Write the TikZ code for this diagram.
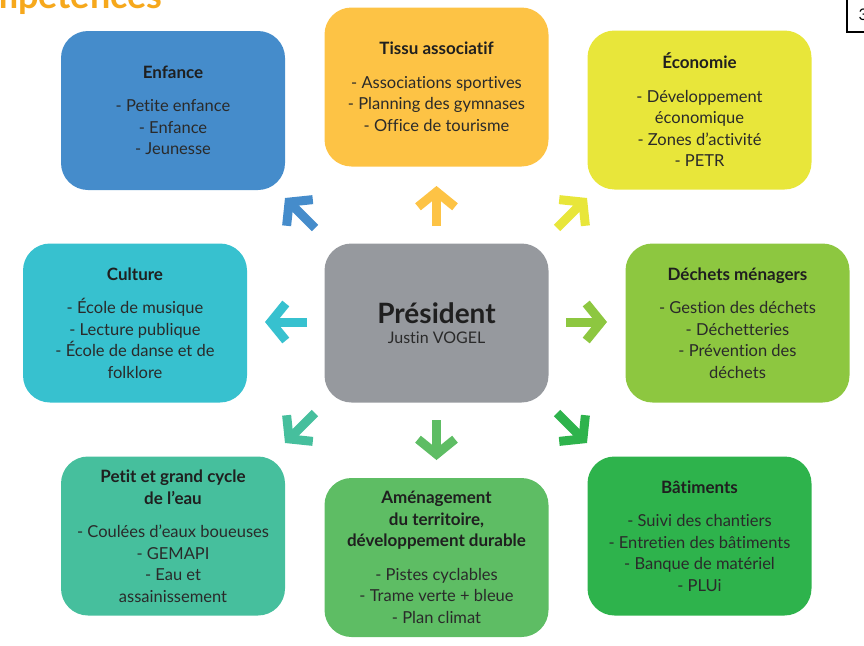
\documentclass[tikz,border=0pt]{standalone}
\usepackage{fontspec}
\setmainfont{Lato}[Ligatures={TeX,NoCommon}]
\usepackage{tikz}
\usetikzlibrary{arrows.meta,%
                positioning}

\definecolor{enfblue}{HTML}{458CCB}
\definecolor{tissuorange}{HTML}{FDC345}
\definecolor{ecoyellow}{HTML}{E8E63A}
\definecolor{cultcyan}{HTML}{37C1CF}
\definecolor{presgrey}{HTML}{96999E}
\definecolor{dechgreen}{HTML}{8DC740}
\definecolor{eauteal}{HTML}{46BF9D}
\definecolor{amengreen}{HTML}{5EBD64}
\definecolor{batgreen}{HTML}{2EB34C}
\definecolor{titreorange}{HTML}{F6A81C}
\definecolor{textdark}{HTML}{2A2A2A}

\newcommand{\rubrique}[1]{{\fontsize{17}{21.5}\selectfont\bfseries\color{black!88}#1}}

\tikzset{
  pole/.style={fill=#1, rounded corners=27pt, minimum width=224pt, minimum height=159pt,
               inner sep=0pt, align=center, text=textdark,
               font=\fontsize{16.5}{21.5}\selectfont},
  chev/.style={draw=#1, line width=9pt,
               -{Straight Barb[length=15pt, width=37pt, line width=9pt]}}
}

\begin{document}
\begin{tikzpicture}[x=1pt,y=-1pt]
\useasboundingbox (0,0) rectangle (864,645);
\clip (0,0) rectangle (864,645);
% titre et numero de page, coupes par le bord
\node[anchor=base east, text=titreorange, font=\fontsize{36}{36}\selectfont\bfseries] (titre) at (166,9) {Compétences};
\node[draw, line width=1.5pt, anchor=north west, minimum width=33pt, minimum height=34pt,
      font=\fontsize{16}{16}\selectfont] (page) at (846,-3) {3};
% les poles
\node[pole=presgrey] (pres) at (436.5,323) {{\fontsize{28}{30}\selectfont\bfseries\color{black!88}Président}\\[-2pt] {\fontsize{16}{18}\selectfont Justin VOGEL}};
\node[pole=enfblue] (enf) at (173,110.5) {\rubrique{Enfance}\\[12pt] - Petite enfance\\ - Enfance\\ - Jeunesse};
\node[pole=tissuorange] (tissu) at (436.5,87) {\rubrique{Tissu associatif}\\[12pt] - Associations sportives\\ - Planning des gymnases\\ - Office de tourisme};
\node[pole=ecoyellow] (eco) at (699.5,110) {\rubrique{Économie}\\[12pt] - Développement\\ économique\\ - Zones d'activité\\ - PETR};
\node[pole=cultcyan] (cult) at (135,323) {\rubrique{Culture}\\[12pt] - École de musique\\ - Lecture publique\\ - École de danse et de\\ folklore};
\node[pole=dechgreen] (dech) at (737.5,323) {\rubrique{Déchets ménagers}\\[12pt] - Gestion des déchets\\ - Déchetteries\\ - Prévention des\\ déchets};
\node[pole=eauteal] (eau) at (173,536) {\rubrique{Petit et grand cycle}\\ \rubrique{de l'eau}\\[12pt] - Coulées d'eaux boueuses\\ - GEMAPI\\ - Eau et\\ assainissement};
\node[pole=amengreen] (amen) at (436.5,557.5) {\rubrique{Aménagement}\\ \rubrique{du territoire,}\\ \rubrique{développement durable}\\[12pt] - Pistes cyclables\\ - Trame verte + bleue\\ - Plan climat};
\node[pole=batgreen] (bat) at (699.5,536) {\rubrique{Bâtiments}\\[12pt] - Suivi des chantiers\\ - Entretien des bâtiments\\ - Banque de matériel\\ - PLUi};
% fleches
\coordinate (nA) at (436.5,226);  \coordinate (nB) at (436.5,186);
\coordinate (sA) at (436.5,420);  \coordinate (sB) at (436.5,460);
\coordinate (oA) at (307,322);    \coordinate (oB) at (265,322);
\coordinate (eA) at (566,322);    \coordinate (eB) at (607,322);
\coordinate (noA) at (315,228);   \coordinate (noB) at (285,198);
\coordinate (neA) at (557,228);   \coordinate (neB) at (587,198);
\coordinate (soA) at (315,413);   \coordinate (soB) at (285,443);
\coordinate (seA) at (557,413);   \coordinate (seB) at (587,443);
\draw[chev=tissuorange] (nA) -- (nB);
\draw[chev=amengreen] (sA) -- (sB);
\draw[chev=cultcyan] (oA) -- (oB);
\draw[chev=dechgreen] (eA) -- (eB);
\draw[chev=enfblue] (noA) -- (noB);
\draw[chev=ecoyellow] (neA) -- (neB);
\draw[chev=eauteal] (soA) -- (soB);
\draw[chev=batgreen] (seA) -- (seB);
\end{tikzpicture}
\end{document}
